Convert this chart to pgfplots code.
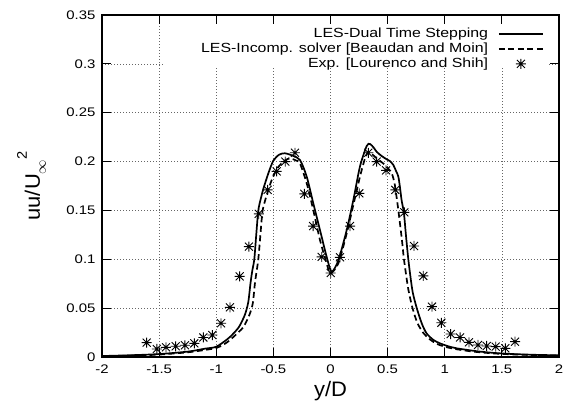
\documentclass[border=0pt]{standalone}
\usepackage{pgfplots}
\pgfplotsset{compat=1.18}
\usepackage{fontspec}
\setmainfont{Liberation Sans}[FakeStretch=1.2]
\newfontfamily\labelfont{Liberation Sans}[FakeStretch=1.05]

% gnuplot-style asterisk: a plus sign overlaid with a cross
\pgfdeclareplotmark{gpstar}{%
  \pgfpathmoveto{\pgfqpoint{-\pgfplotmarksize}{0pt}}%
  \pgfpathlineto{\pgfqpoint{\pgfplotmarksize}{0pt}}%
  \pgfpathmoveto{\pgfqpoint{0pt}{-\pgfplotmarksize}}%
  \pgfpathlineto{\pgfqpoint{0pt}{\pgfplotmarksize}}%
  \pgfpathmoveto{\pgfqpoint{-.8\pgfplotmarksize}{-.8\pgfplotmarksize}}%
  \pgfpathlineto{\pgfqpoint{.8\pgfplotmarksize}{.8\pgfplotmarksize}}%
  \pgfpathmoveto{\pgfqpoint{-.8\pgfplotmarksize}{.8\pgfplotmarksize}}%
  \pgfpathlineto{\pgfqpoint{.8\pgfplotmarksize}{-.8\pgfplotmarksize}}%
  \pgfusepathqstroke}

% key samples: 44bp long lines, marks centred on them
\pgfplotsset{
  legend image code/.code={\draw[mark repeat=2,mark phase=2,#1] plot coordinates {(0bp,0bp) (22bp,0bp) (44bp,0bp)};},
  starkey/.style={legend image code/.code={\draw[##1] plot coordinates {(22bp,0bp)};}},
}

\begin{document}
\begin{tikzpicture}
\begin{axis}[
  set layers,
  scale only axis, width=457bp, height=342bp,
  at={(0,0)}, anchor=south west,
  xmin=-2, xmax=2, ymin=0, ymax=0.35,
  xtick={-2,-1.5,-1,-0.5,0,0.5,1,1.5,2},
  ytick={0,0.05,0.1,0.15,0.2,0.25,0.3,0.35},
  tick align=inside, tick pos=both,
  major tick length=9bp,
  every tick/.style={black, line width=1bp},
  axis line style={line width=1.2bp},
  grid=major,
  grid style={black!60, line width=0.6bp, dash pattern=on 0.7bp off 2.3bp},
  /pgf/number format/assume math mode=true,
  tick label style={font=\fontsize{12.5}{14}\selectfont},
  yticklabel style={/pgf/number format/fixed, /pgf/number format/precision=2, xshift=-3bp},
  xticklabel style={/pgf/number format/fixed, yshift=-4bp},
  xlabel={y/D},
  ylabel={uu/U\raisebox{-6bp}{\fontsize{14}{14}\selectfont$\infty$}\raisebox{13bp}{\fontsize{14}{14}\selectfont 2}},
  every axis x label/.style={at={(axis description cs:0.5,0)}, yshift=-39bp, anchor=base, font=\labelfont\fontsize{21}{24}\selectfont},
  every axis y label/.style={at={(axis description cs:0,0.5)}, xshift=-62bp, rotate=90, anchor=base, font=\labelfont\fontsize{21}{24}\selectfont},
  legend plot pos=right,
  legend cell align=right,
  legend style={at={(1,1)}, anchor=north east, xshift=-15bp, yshift=-11bp,
    draw=none, fill=none, font=\fontsize{13.3}{15}\selectfont,
    row sep=0bp, column sep=8bp, inner sep=0bp},
]

% opaque key area, below the ticks but above the grid
\addplot[fill=white, draw=none, forget plot, on layer=axis grid] coordinates {
(-1.449,0.2968) (1.912,0.2968) (1.912,0.35) (-1.449,0.35)
} -- cycle;

\addplot[black, line width=1.7bp, smooth, tension=0.45] coordinates {
(-2.0,0.0010) (-1.75,0.0018) (-1.5,0.0030) (-1.25,0.0055) (-1.1,0.0085) (-1.0,0.0105)
(-0.9,0.0185) (-0.85,0.024) (-0.8,0.031) (-0.75,0.043) (-0.72,0.056) (-0.70,0.0757)
(-0.685,0.088) (-0.667,0.10) (-0.65,0.125) (-0.632,0.15) (-0.61,0.162) (-0.588,0.172)
(-0.544,0.188) (-0.50,0.201) (-0.45,0.207) (-0.40,0.2085) (-0.33,0.206) (-0.267,0.2016)
(-0.208,0.1845) (-0.15,0.157) (-0.092,0.130) (-0.034,0.1027) (0.01,0.0873) (0.069,0.099)
(0.142,0.130) (0.20,0.1607) (0.258,0.195) (0.317,0.216) (0.346,0.218) (0.38,0.214)
(0.404,0.210) (0.45,0.2055) (0.492,0.2023) (0.52,0.2005) (0.55,0.1965) (0.575,0.190)
(0.594,0.1845) (0.61,0.172) (0.622,0.1607) (0.643,0.147) (0.66,0.125) (0.681,0.10)
(0.70,0.082) (0.72,0.066) (0.755,0.05) (0.80,0.034) (0.841,0.0242) (0.90,0.0175)
(0.958,0.014) (1.03,0.011) (1.104,0.0089) (1.2,0.0072) (1.31,0.0055) (1.45,0.0040)
(1.6,0.003) (1.8,0.0022) (2.0,0.0017)
};
\addlegendentry{LES-Dual Time Stepping}

\addplot[black, line width=1.7bp, dash pattern=on 6bp off 3.5bp, smooth, tension=0.45] coordinates {
(-2.0,0.0007) (-1.75,0.0014) (-1.5,0.0025) (-1.25,0.0048) (-1.1,0.0072) (-1.0,0.0092)
(-0.94,0.0125) (-0.9,0.0155) (-0.85,0.0205) (-0.8,0.026) (-0.76,0.031) (-0.71,0.043)
(-0.68,0.055) (-0.66,0.077) (-0.632,0.10) (-0.61,0.13) (-0.594,0.15) (-0.56,0.165)
(-0.515,0.181) (-0.46,0.194) (-0.40,0.201)
(-0.354,0.2033) (-0.30,0.201) (-0.267,0.198) (-0.208,0.1777) (-0.15,0.150) (-0.092,0.1197)
(-0.034,0.0959) (0.0,0.0856) (0.069,0.0959) (0.142,0.1266) (0.20,0.1556) (0.258,0.1845)
(0.302,0.2033) (0.331,0.210) (0.36,0.208) (0.404,0.2033) (0.477,0.1965) (0.535,0.188)
(0.56,0.178) (0.578,0.164) (0.594,0.15) (0.625,0.12) (0.643,0.10) (0.68,0.07)
(0.718,0.05) (0.76,0.035) (0.81,0.025) (0.87,0.018) (0.93,0.0135) (1.0,0.0105)
(1.1,0.008) (1.25,0.0055) (1.45,0.0035) (1.7,0.0022) (2.0,0.0015)
};
\addlegendentry{LES-Incomp. solver [Beaudan and Moin]}

\addplot[black, only marks, mark=gpstar, mark size=5bp, line width=0.9bp, starkey] coordinates {
(-1.609,0.0147) (-1.52,0.0082) (-1.44,0.0099) (-1.355,0.011) (-1.274,0.012) (-1.192,0.014)
(-1.113,0.020) (-1.034,0.0225) (-0.958,0.0345) (-0.88,0.0508) (-0.795,0.0825) (-0.714,0.113)
(-0.628,0.1465) (-0.550,0.171) (-0.471,0.190) (-0.396,0.200) (-0.311,0.209) (-0.229,0.167)
(-0.152,0.134) (-0.077,0.1025) (0.002,0.086) (0.083,0.102) (0.171,0.134) (0.252,0.1675)
(0.331,0.209) (0.404,0.200) (0.486,0.191) (0.567,0.171) (0.646,0.148) (0.731,0.1136)
(0.812,0.083) (0.888,0.0515) (0.970,0.035) (1.052,0.0235) (1.134,0.020) (1.212,0.015)
(1.291,0.0123) (1.367,0.0113) (1.446,0.0106) (1.530,0.0089) (1.615,0.0157)
};
\addlegendentry{Exp. [Lourenco and Shih]}
\end{axis}
\pgfresetboundingbox
\useasboundingbox (-102bp,-52bp) rectangle (465bp,357bp);
\end{tikzpicture}
\end{document}
